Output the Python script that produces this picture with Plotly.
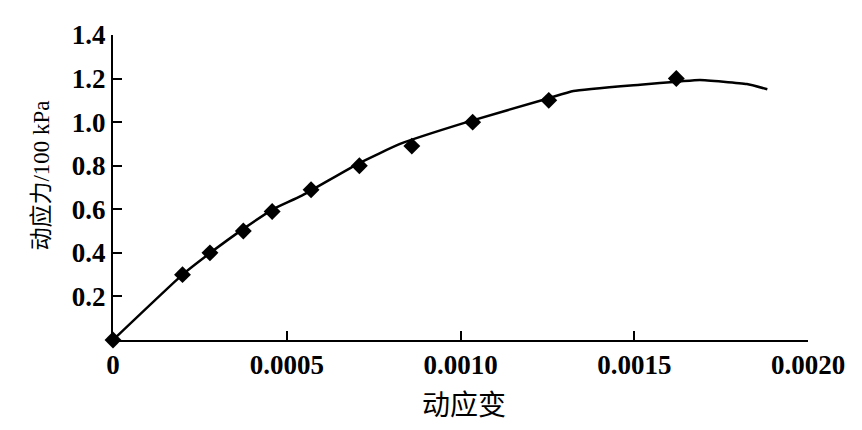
import plotly.graph_objects as go

# measured points (dynamic strain, dynamic stress /100 kPa)
strain_pts = [0.0, 0.000200, 0.000279, 0.000375, 0.000458, 0.000570, 0.000709, 0.000860, 0.001035, 0.001254, 0.001621]
stress_pts = [0.0, 0.30, 0.40, 0.50, 0.59, 0.69, 0.80, 0.89, 1.00, 1.10, 1.20]

# fitted curve
strain_fit = [0.0, 0.000200, 0.000280, 0.000375, 0.000460, 0.000540, 0.000706, 0.000826, 0.001018, 0.001254, 0.001325, 0.001517, 0.001632, 0.001689, 0.001824, 0.001883]
stress_fit = [0.0, 0.30, 0.40, 0.51, 0.60, 0.66, 0.81, 0.90, 1.00, 1.11, 1.143, 1.172, 1.187, 1.194, 1.175, 1.151]

x_ticks = [0, 0.0005, 0.0010, 0.0015, 0.0020]
x_tick_labels = ["0", "0.0005", "0.0010", "0.0015", "0.0020"]
y_ticks = [0.2, 0.4, 0.6, 0.8, 1.0, 1.2, 1.4]
y_tick_labels = ["0.2", "0.4", "0.6", "0.8", "1.0", "1.2", "1.4"]

x_title = "动应变"
y_title = "动应力/100 kPa"

FONT = "Liberation Serif, Times New Roman, Noto Sans CJK SC, serif"

# page body has an 8px margin: shrink the figure so the plot area lands where the reference has it
W, H = 854, 422
ML, MR, MT, MB = 105, 54, 24, 90
PW, PH = W - ML - MR, H - MT - MB

fig = go.Figure()
fig.add_trace(go.Scatter(
    x=strain_fit, y=stress_fit, mode="lines",
    line=dict(color="black", width=2.5, shape="spline", smoothing=0.4),
    showlegend=False, hoverinfo="skip",
))
fig.add_trace(go.Scatter(
    x=strain_pts, y=stress_pts, mode="markers",
    marker=dict(symbol="diamond", size=13, color="black"),
    showlegend=False, cliponaxis=False,
))

tickfont = dict(family=FONT, size=27, color="black", weight="bold")

fig.update_layout(
    width=W, height=H,
    margin=dict(l=ML, r=MR, t=MT, b=MB),
    paper_bgcolor="white", plot_bgcolor="white",
    font=dict(family=FONT, color="black", size=24),
    xaxis=dict(
        range=[0, 0.0020], tickvals=x_ticks, ticktext=x_tick_labels,
        showline=True, linecolor="black", linewidth=2,
        ticks="inside", ticklen=9, tickwidth=2, tickcolor="black",
        showgrid=False, zeroline=False, tickfont=tickfont,
    ),
    yaxis=dict(
        range=[0, 1.4], tickvals=y_ticks, ticktext=y_tick_labels,
        showline=True, linecolor="black", linewidth=2,
        ticks="inside", ticklen=9, tickwidth=2, tickcolor="black",
        showgrid=False, zeroline=False, tickfont=tickfont,
    ),
    annotations=[
        dict(text=x_title, xref="paper", yref="paper", x=(464 - 113) / PW, y=-(406 - 340) / PH,
             xanchor="center", yanchor="middle", showarrow=False,
             font=dict(family=FONT, size=28, color="black")),
        dict(text=y_title, xref="paper", yref="paper", x=-(113 - 42) / PW, y=(340 - 174) / PH,
             xanchor="center", yanchor="middle", showarrow=False, textangle=-90,
             font=dict(family=FONT, size=23, color="black")),
    ],
)

fig.write_html("out.html")
